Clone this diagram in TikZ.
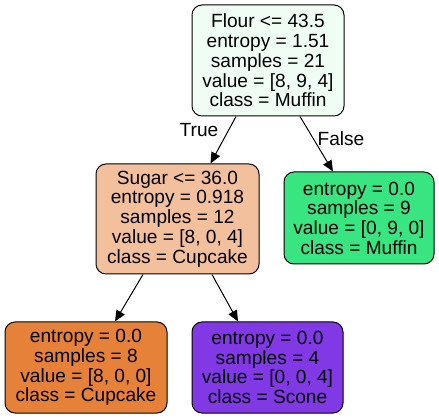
\documentclass[tikz,border=0pt]{standalone}
\usepackage{fontspec}
\setmainfont{Liberation Sans}
\usetikzlibrary{arrows.meta}
\definecolor{cRoot}{RGB}{240,253,245}
\definecolor{cSugar}{RGB}{242,192,156}
\definecolor{cMuffin}{RGB}{57,229,129}
\definecolor{cCupcake}{RGB}{229,129,57}
\definecolor{cScone}{RGB}{129,57,229}
\tikzset{
  treenode/.style={draw=black, line width=1pt, rounded corners=10pt, align=center,
    inner sep=0pt, font=\fontsize{19.1}{19.7}\selectfont},
  edgelabel/.style={font=\fontsize{19.1}{19.7}\selectfont, inner sep=0pt},
  treeedge/.style={line width=1pt, -{Triangle[length=11pt,width=9.5pt]}}
}
\begin{document}
\begin{tikzpicture}[x=1pt,y=-1pt]
\useasboundingbox (0,0) rectangle (439,419);
\node[treenode, fill=cRoot, minimum width=152pt, minimum height=111pt] (root) at (268,60.5)
  {Flour <= 43.5\\entropy = 1.51\\samples = 21\\value = [8, 9, 4]\\class = Muffin};
\node[treenode, fill=cSugar, minimum width=163pt, minimum height=110pt] (sugar) at (177.5,219)
  {Sugar <= 36.0\\entropy = 0.918\\samples = 12\\value = [8, 0, 4]\\class = Cupcake};
\node[treenode, fill=cMuffin, minimum width=150pt, minimum height=92pt] (right) at (359,218)
  {entropy = 0.0\\samples = 9\\value = [0, 9, 0]\\class = Muffin};
\node[treenode, fill=cCupcake, minimum width=162pt, minimum height=91pt] (bl) at (86,367.5)
  {entropy = 0.0\\samples = 8\\value = [8, 0, 0]\\class = Cupcake};
\node[treenode, fill=cScone, minimum width=151pt, minimum height=91pt] (bm) at (267.5,367.5)
  {entropy = 0.0\\samples = 4\\value = [0, 0, 4]\\class = Scone};
\draw[treeedge] ([xshift=-32pt]root.south) -- ([xshift=33pt]sugar.north);
\draw[treeedge] ([xshift=32pt]root.south) -- ([xshift=-26pt]right.north);
\draw[treeedge] ([xshift=-34.5pt]sugar.south) -- ([xshift=29pt]bl.north);
\draw[treeedge] ([xshift=34.5pt]sugar.south) -- ([xshift=-29.5pt]bm.north);
\node[edgelabel] (t) at (199,130) {True};
\node[edgelabel] (f) at (341,139) {False};
\end{tikzpicture}
\end{document}
